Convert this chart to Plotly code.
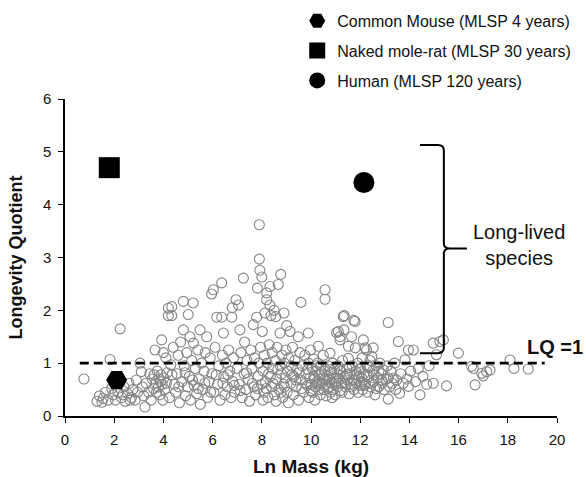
import plotly.graph_objects as go

# ---------------- data ----------------
# other mammal species: ln body mass (kg) and longevity quotient
other_ln_mass = [
    0.77, 1.30, 1.40, 1.55, 1.65, 1.75, 1.83, 1.90, 1.95, 1.50,
    2.05, 2.15, 2.24, 2.30, 2.40, 2.45, 2.55, 2.60, 2.70, 2.75, 2.85, 2.90, 2.95, 2.35, 2.65,
    3.05, 3.10, 3.15, 3.20, 3.25, 3.30, 3.40, 3.45, 3.50, 3.55, 3.60, 3.66, 3.70, 3.75, 3.80,
    3.82, 3.85, 3.90, 3.93, 3.95, 3.98, 4.00, 3.62, 3.72, 3.88,
    4.02, 4.05, 4.10, 4.15, 4.20, 4.20, 4.25, 4.30, 4.34, 4.34, 4.40, 4.45, 4.50, 4.55, 4.60,
    4.65, 4.70, 4.75, 4.81, 4.81, 4.85, 4.90, 4.95, 4.98, 4.12, 4.35, 4.62, 4.88,
    5.01, 5.05, 5.08, 5.10, 5.15, 5.21, 5.22, 5.25, 5.30, 5.35, 5.40, 5.45, 5.49, 5.50, 5.55,
    5.60, 5.65, 5.70, 5.76, 5.80, 5.85, 5.90, 5.96, 5.98, 5.18, 5.42, 5.68, 5.92,
    6.03, 6.05, 6.10, 6.17, 6.20, 6.25, 6.30, 6.37, 6.37, 6.40, 6.44, 6.45, 6.50, 6.55, 6.60,
    6.65, 6.70, 6.75, 6.78, 6.80, 6.82, 6.85, 6.90, 6.95, 7.00, 6.15, 6.42, 6.62, 6.88,
    7.05, 7.08, 7.11, 7.15, 7.20, 7.25, 7.28, 7.30, 7.35, 7.40, 7.45, 7.50, 7.55, 7.60, 7.65,
    7.68, 7.70, 7.75, 7.79, 7.82, 7.85, 7.88, 7.90, 7.90, 7.92, 7.95, 7.98, 7.12, 7.38, 7.62, 7.82,
    8.00, 8.02, 8.05, 8.08, 8.10, 8.13, 8.15, 8.20, 8.20, 8.22, 8.25, 8.30, 8.33, 8.33, 8.35,
    8.37, 8.40, 8.42, 8.45, 8.50, 8.52, 8.55, 8.57, 8.60, 8.62, 8.67, 8.70, 8.74, 8.75, 8.77,
    8.80, 8.82, 8.85, 8.88, 8.90, 8.92, 8.95, 8.98, 8.05, 8.18, 8.28, 8.45, 8.58, 8.65, 8.78, 8.92,
    9.01, 9.03, 9.05, 9.10, 9.15, 9.18, 9.20, 9.25, 9.28, 9.30, 9.35, 9.40, 9.45, 9.48, 9.50,
    9.55, 9.59, 9.60, 9.65, 9.70, 9.75, 9.80, 9.85, 9.89, 9.90, 9.92, 9.95, 9.98,
    9.08, 9.22, 9.38, 9.52, 9.62, 9.78, 9.88,
    10.02, 10.05, 10.08, 10.10, 10.12, 10.16, 10.18, 10.20, 10.25, 10.28, 10.30, 10.32, 10.35,
    10.38, 10.40, 10.45, 10.48, 10.50, 10.52, 10.55, 10.57, 10.57, 10.60, 10.62, 10.65, 10.70,
    10.72, 10.75, 10.77, 10.80, 10.82, 10.85, 10.88, 10.90, 10.92, 10.95, 10.98,
    10.00, 10.15, 10.22, 10.33, 10.42, 10.58, 10.68, 10.78, 10.86, 10.96,
    11.02, 11.04, 11.05, 11.08, 11.10, 11.11, 11.15, 11.18, 11.18, 11.20, 11.22, 11.25, 11.28,
    11.31, 11.34, 11.35, 11.38, 11.40, 11.45, 11.48, 11.52, 11.52, 11.55, 11.58, 11.60, 11.65,
    11.68, 11.70, 11.74, 11.75, 11.79, 11.80, 11.82, 11.85, 11.90, 11.92, 11.95, 11.98,
    11.06, 11.16, 11.26, 11.36, 11.46, 11.56, 11.66, 11.76, 11.86, 11.96,
    12.02, 12.05, 12.08, 12.10, 12.13, 12.15, 12.20, 12.22, 12.26, 12.28, 12.30, 12.35, 12.40,
    12.42, 12.47, 12.50, 12.53, 12.55, 12.60, 12.65, 12.70, 12.75, 12.80, 12.85, 12.90, 12.94, 12.98,
    12.06, 12.16, 12.26, 12.36, 12.46, 12.56, 12.66, 12.76, 12.88,
    13.05, 13.10, 13.14, 13.14, 13.14, 13.20, 13.25, 13.30, 13.35, 13.40, 13.45, 13.48, 13.55,
    13.60, 13.65, 13.75, 13.82, 13.90, 13.96, 13.96,
    14.05, 14.16, 14.25, 14.36, 14.43, 14.55, 14.70, 14.97, 14.97, 14.80,
    15.10, 15.24, 15.38, 15.51, 15.99, 16.53, 16.60, 16.67, 16.94, 17.00, 17.14, 17.28,
    18.09, 18.25, 18.83,
]
other_lq = [
    0.70, 0.28, 0.38, 0.33, 0.45, 0.30, 1.07, 0.52, 0.40, 0.26,
    0.30, 0.45, 1.65, 0.35, 0.55, 0.28, 0.42, 0.62, 0.35, 0.50, 0.30, 0.68, 0.45, 0.40, 0.30,
    1.00, 0.84, 0.55, 0.38, 0.17, 0.62, 0.45, 0.80, 0.30, 0.70, 0.52, 1.25, 0.62, 0.85, 0.55,
    0.70, 0.40, 0.78, 1.44, 0.60, 0.30, 1.20, 0.78, 0.45, 0.65,
    0.72, 0.50, 1.10, 0.82, 2.04, 1.90, 0.35, 0.97, 2.07, 1.90, 1.30, 0.60, 0.45, 0.80, 1.15,
    0.25, 1.40, 0.65, 2.17, 1.63, 0.95, 0.38, 1.20, 0.55, 0.62, 0.78, 0.55, 0.82,
    1.92, 0.75, 1.50, 0.30, 1.05, 2.14, 1.38, 0.58, 0.90, 0.42, 1.25, 0.70, 1.63, 0.22, 1.00,
    0.50, 0.85, 1.20, 1.50, 0.35, 0.65, 1.10, 2.31, 0.80, 0.68, 0.52, 0.62, 0.45,
    2.39, 0.45, 1.30, 1.87, 0.60, 0.95, 0.30, 2.52, 1.87, 1.15, 1.57, 0.75, 0.40, 1.00, 0.55,
    1.25, 0.85, 0.35, 1.87, 2.05, 0.65, 1.10, 0.45, 2.20, 0.90, 0.78, 0.62, 0.78, 0.58,
    2.10, 0.60, 1.63, 1.20, 0.35, 2.61, 0.80, 1.40, 0.50, 1.05, 0.70, 0.28, 1.25, 0.90, 1.73,
    0.55, 1.10, 0.40, 1.87, 2.42, 0.75, 1.00, 3.62, 2.97, 2.76, 1.30, 0.60, 0.48, 0.82, 0.62, 0.52,
    2.63, 1.60, 0.85, 0.45, 1.15, 1.95, 0.65, 2.33, 2.20, 1.00, 0.35, 1.35, 2.45, 2.10, 0.75,
    1.90, 0.55, 1.20, 0.90, 2.00, 0.40, 1.05, 1.88, 0.70, 1.30, 2.49, 0.50, 1.57, 0.95, 2.68,
    0.80, 1.15, 0.35, 0.60, 1.95, 1.00, 0.72, 1.25, 0.30, 0.52, 0.80, 0.62, 0.28, 0.88, 0.45, 0.55,
    1.71, 0.45, 0.85, 1.10, 1.60, 0.62, 0.95, 1.30, 0.40, 0.75, 1.05, 0.55, 0.88, 1.50, 0.30,
    1.20, 2.15, 0.68, 0.95, 0.45, 1.15, 0.80, 0.58, 1.57, 1.00, 0.35, 0.72, 1.25,
    0.25, 0.78, 0.68, 0.82, 0.52, 0.62, 0.88,
    0.60, 0.90, 0.45, 1.08, 0.75, 0.30, 0.55, 0.85, 0.65, 1.00, 1.32, 0.50, 0.78,
    0.40, 0.95, 0.62, 0.72, 1.15, 0.50, 0.85, 2.39, 2.21, 0.60, 0.38, 0.75, 0.95,
    0.55, 0.68, 1.19, 0.45, 0.82, 0.62, 1.00, 0.50, 0.72, 0.88, 0.40,
    0.48, 0.70, 0.95, 0.62, 0.80, 0.70, 0.52, 0.88, 0.35, 0.62,
    0.65, 1.58, 0.80, 0.55, 0.95, 1.60, 0.70, 1.44, 1.50, 0.48, 0.85, 0.62, 1.05,
    1.88, 1.63, 1.90, 0.75, 0.55, 0.90, 0.68, 1.32, 1.09, 0.42, 0.80, 0.60, 1.50,
    0.95, 0.70, 1.81, 0.50, 1.79, 1.29, 0.85, 0.62, 1.00, 0.45, 0.75, 0.58,
    0.72, 0.88, 0.45, 0.62, 0.78, 0.92, 0.55, 0.68, 0.78, 0.88,
    0.90, 0.65, 1.10, 0.50, 1.44, 0.80, 1.29, 0.60, 1.25, 0.95, 0.45, 0.75, 1.05,
    0.55, 1.13, 0.85, 1.29, 0.65, 0.40, 0.95, 0.72, 0.55, 1.00, 0.80, 0.62, 0.87, 0.50,
    0.72, 0.58, 0.78, 0.92, 0.62, 0.78, 0.52, 0.85, 0.68,
    0.70, 0.95, 1.77, 0.72, 0.32, 0.55, 0.85, 0.62, 0.72, 1.00, 0.50, 0.68, 1.41,
    0.43, 0.80, 0.62, 1.06, 0.70, 0.56, 1.25,
    0.85, 1.25, 0.65, 0.90, 0.40, 0.75, 0.60, 1.38, 0.62, 0.95,
    1.16, 1.41, 1.44, 0.57, 1.19, 0.94, 0.90, 0.59, 0.81, 0.76, 0.84, 0.87,
    1.06, 0.90, 0.89,
]

# highlighted species
species_names = ["Common Mouse (MLSP 4 years)", "Naked mole-rat (MLSP 30 years)", "Human (MLSP 120 years)"]
species_ln_mass = [2.10, 1.80, 12.15]
species_lq = [0.68, 4.70, 4.42]
species_symbols = ["hexagon2", "square", "circle"]

# reference level and bracket extent (data units)
lq_reference = 1.0
line_start, line_end = 0.6, 19.5
bracket_x, bracket_left, bracket_tip = 15.4, 14.43, 16.34
bracket_top, bracket_mid, bracket_bottom = 5.13, 3.17, 1.19

FONT = "Liberation Sans, Arial, Helvetica, sans-serif"

fig = go.Figure()

fig.add_trace(go.Scatter(
    x=other_ln_mass, y=other_lq, mode="markers", showlegend=False,
    marker=dict(symbol="circle-open", size=10, color="#858585", line=dict(width=1.1)),
    hoverinfo="x+y",
))

for name, xv, yv, sym in zip(species_names, species_ln_mass, species_lq, species_symbols):
    fig.add_trace(go.Scatter(
        x=[xv], y=[yv], mode="markers", name=name, legendgroup=name,
        marker=dict(symbol=sym, size=21, color="black"),
    ))

# dashed LQ = 1 line
fig.add_shape(type="line", xref="x", yref="y", x0=line_start, x1=line_end,
              y0=lq_reference, y1=lq_reference,
              line=dict(color="black", width=2.6, dash="9px,5px"))

# curly bracket
bx, r, ry = bracket_x, 0.25, 0.1
path = (
    f"M{bracket_left},{bracket_top} L{bx - r},{bracket_top} "
    f"Q{bx},{bracket_top} {bx},{bracket_top - ry} "
    f"L{bx},{bracket_mid + ry} Q{bx},{bracket_mid} {bx + r},{bracket_mid} "
    f"L{bracket_tip},{bracket_mid} "
    f"M{bx + r},{bracket_mid} Q{bx},{bracket_mid} {bx},{bracket_mid - ry} "
    f"L{bx},{bracket_bottom + ry} Q{bx},{bracket_bottom} {bx - r},{bracket_bottom} "
    f"L{bracket_left},{bracket_bottom}"
)
fig.add_shape(type="path", xref="x", yref="y", path=path,
              line=dict(color="black", width=2))

fig.add_annotation(x=18.45, y=3.24, xref="x", yref="y", showarrow=False,
                   text="Long-lived<br>species", align="center",
                   font=dict(family=FONT, size=20, color="#111"))
fig.add_annotation(x=19.9, y=1.31, xref="x", yref="y", showarrow=False,
                   text="<b>LQ =1</b>", font=dict(family=FONT, size=20, color="#111"))

fig.update_layout(
    width=586, height=477,
    margin=dict(l=65, r=29, t=99, b=61, autoexpand=False),
    paper_bgcolor="white", plot_bgcolor="white",
    font=dict(family=FONT, color="#111"),
    legend=dict(x=0.472, y=1.30, xanchor="left", yanchor="top",
                font=dict(family=FONT, size=16, color="#111"),
                tracegroupgap=6, itemsizing="trace", bgcolor="rgba(0,0,0,0)"),
    xaxis=dict(range=[0, 20], dtick=2, showline=True, linecolor="black", linewidth=1.5,
               ticks="outside", ticklen=5, tickcolor="black", showgrid=False, zeroline=False,
               automargin=False, ticklabelstandoff=4,
               tickfont=dict(family=FONT, size=15, color="#111"),
               title=dict(text="<b>Ln Mass (kg)</b>", font=dict(family=FONT, size=19, color="#111"),
                          standoff=14)),
    yaxis=dict(range=[0, 6], dtick=1, showline=True, linecolor="black", linewidth=1.5,
               ticks="outside", ticklen=5, tickcolor="black", showgrid=False, zeroline=False,
               automargin=False, ticklabelstandoff=4,
               tickfont=dict(family=FONT, size=15, color="#111"),
               title=dict(text="<b>Longevity Quotient</b>", font=dict(family=FONT, size=18, color="#111"),
                          standoff=16)),
)

fig.write_html("out.html", config={"displayModeBar": False},
               post_script="document.body.style.margin='0';")
